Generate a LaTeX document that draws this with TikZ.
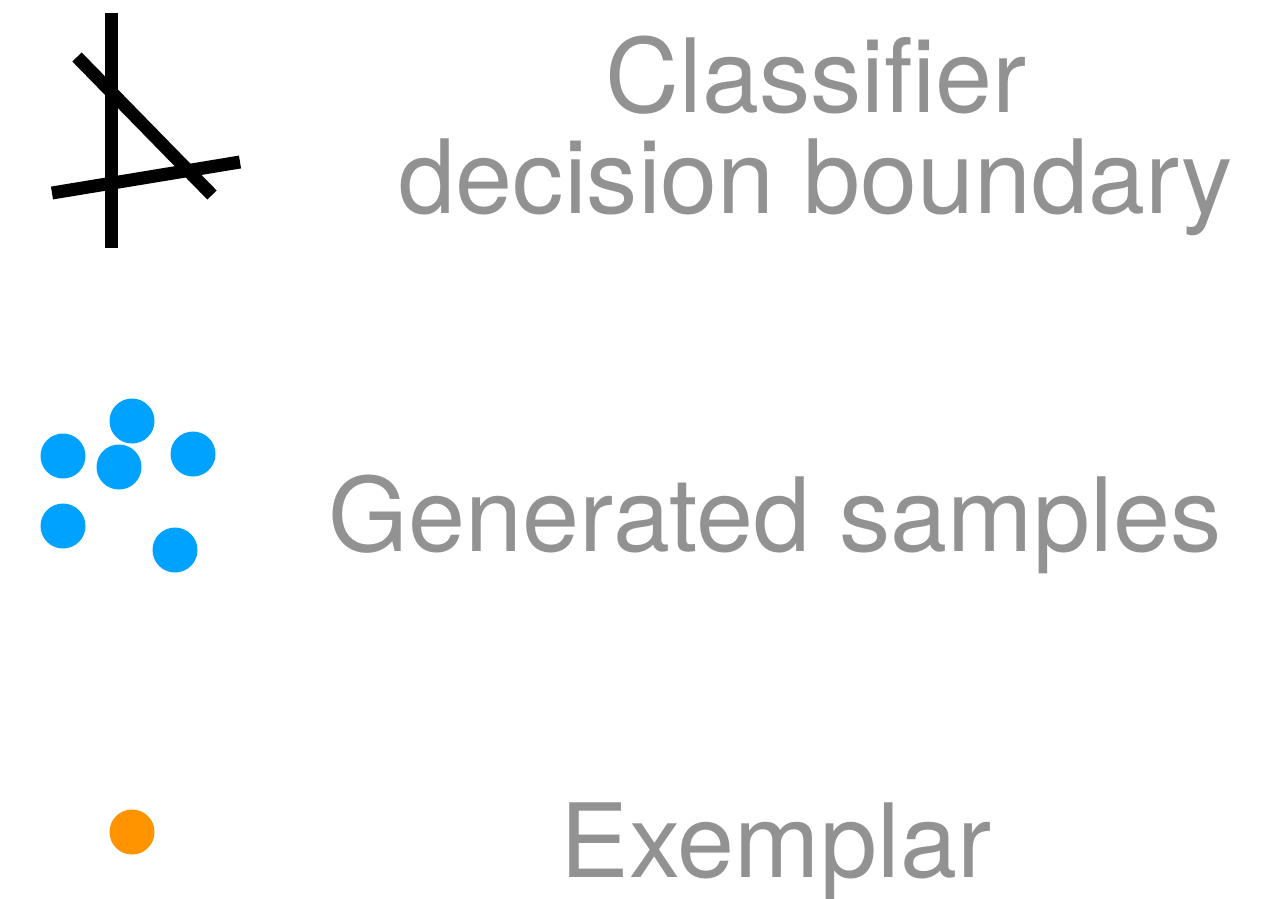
\documentclass[tikz,border=0pt]{standalone}
\usepackage{fontspec}
\setmainfont{TeX Gyre Heros}
\definecolor{txtgray}{HTML}{929292}
\definecolor{sampblue}{HTML}{00A2FF}
\definecolor{exorange}{HTML}{FF9300}
\begin{document}
\begin{tikzpicture}[x=1pt,y=-1pt,
  boundline/.style={line width=13pt, black},
  lbl/.style={text=txtgray, font=\fontsize{102.5}{101}\selectfont, anchor=base, inner sep=0pt},
  sample/.style={circle, fill=sampblue, minimum size=45pt, inner sep=0pt},
  exemplar/.style={circle, fill=exorange, minimum size=45pt, inner sep=0pt}]
\useasboundingbox (0,0) rectangle (1281,898);
% classifier boundary icon
\coordinate (v1) at (111,13);
\coordinate (v2) at (111,248);
\coordinate (d1) at (77,57);
\coordinate (d2) at (212,195);
\coordinate (h1) at (52,193);
\coordinate (h2) at (240,162);
\draw[boundline] (v1) -- (v2);
\draw[boundline] (d1) -- (d2);
\draw[boundline] (h1) -- (h2);
% generated samples
\node[sample] (s1) at (132,421) {};
\node[sample] (s2) at (63,456) {};
\node[sample] (s3) at (119,467) {};
\node[sample] (s4) at (193,454) {};
\node[sample] (s5) at (63,526) {};
\node[sample] (s6) at (175,550) {};
% exemplar
\node[exemplar] (ex) at (132,832) {};
% labels
\node[lbl] (cls1) at (816,112) {Classifier};
\node[lbl] (cls2) at (816,213) {decision boundary};
\node[lbl] (gen) at (775,551) {Generated samples};
\node[lbl] (exl) at (776,877) {Exemplar};
\end{tikzpicture}
\end{document}
